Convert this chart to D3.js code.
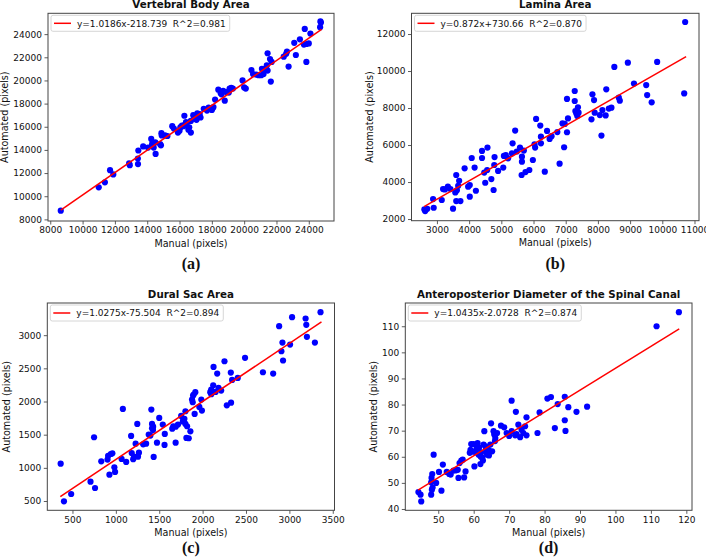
<!DOCTYPE html>
<html>
<head>
<meta charset="utf-8">
<script src="https://cdn.jsdelivr.net/npm/d3@7"></script>
<style>
  body { margin: 0; background: #fff; }
  text { fill: #111; }
</style>
</head>
<body>
<div id="chart"></div>
<script>
// Chart data.
const titles = ['Vertebral Body Area', 'Lamina Area', 'Dural Sac Area', 'Anteroposterior Diameter of the Spinal Canal'];
const letters = ['(a)', '(b)', '(c)', '(d)'];
const fitLabels = ['y=1.0186x-218.739  R^2=0.981', 'y=0.872x+730.66  R^2=0.870',
                   'y=1.0275x-75.504  R^2=0.894', 'y=1.0435x-2.0728  R^2=0.874'];
// Fit line ends as drawn in the figure: [start, end].
const fitX = [[8650, 24790], [2600, 10740], [360, 3370], [44.3, 118.0]];
const fitY = [[8800, 24420], [2670, 10780], [565, 3200], [47.2, 109.0]];

const xTicks = [
    d3.range(8000, 24001, 2000),
    d3.range(3000, 11001, 1000),
    d3.range(500, 3501, 500),
    d3.range(50, 121, 10)
];
const yTicks = [
    d3.range(8000, 24001, 2000),
    d3.range(2000, 12001, 2000),
    d3.range(500, 3001, 500),
    d3.range(40, 111, 10)
];

// [manual, automated]
const vertebralBody = [
    [8650,8750],[11000,10770],[11380,11200],[11700,12250],[11900,11880],[12880,12850],[12920,12680],[13420,13250],
    [13450,13950],[13430,12780],[13750,14300],[14050,14200],[14250,14950],[14400,14200],[14520,13650],[14500,14650],
    [14300,14500],[14850,14400],[14880,15450],[14900,15250],[14800,14500],[15100,15250],[15250,15200],[15550,16050],
    [15650,15850],[16000,15650],[16050,15950],[16150,16100],[16300,16950],[16350,16200],[16250,16050],[16400,16400],
    [16550,15750],[16700,15500],[16600,15950],[16850,17000],[16900,16700],[17000,16850],[17100,17150],[17200,16900],
    [17300,16800],[17500,17550],[17700,17400],[17800,17650],[18000,17450],[18100,17700],[18200,18350],[18400,19200],
    [18550,18900],[18700,19100],[18800,18250],[18900,19000],[19100,19300],[19050,18950],[19300,19300],[19900,20000],
    [20000,19400],[20100,19300],[20450,20900],[20550,20550],[20750,20500],[20900,20450],[21050,20450],[21200,20550],
    [21300,21000],[21450,22350],[21400,21300],[21450,20850],[21650,19900],[21600,21850],[21700,21600],[22450,22050],
    [22600,22300],[22650,22500],[22750,21200],[23100,23250],[23200,22200],[23450,23550],[23700,23100],[23750,24450],
    [23850,23150],[23850,21600],[24100,24050],[24700,24600],[24750,25000],[24720,25100],[24000,23200],[16100,16000],
    [16700,16500],[17050,16600],[18600,18800],[19200,19350],[17250,17100],[14350,14350],[15900,15500],[18050,17600],
    [21100,21000],[16450,16300]
];
const laminaArea = [
    [2610,2520],[2635,2430],[2700,2550],[2880,3080],[2900,2610],[3150,3030],[3190,3620],[3250,3600],[3340,3750],
    [3420,3620],[3500,2560],[3570,3440],[3600,4380],[3600,2970],[3660,3800],[3690,4070],[3730,2970],[3620,3550],
    [3860,4740],[3970,3750],[4020,3840],[4020,3210],[4080,5300],[4170,4780],[4210,3530],[4400,5300],[4400,5680],
    [4470,4510],[4500,3960],[4570,5860],[4560,4650],[4690,4160],[4760,3570],[4780,4920],[4790,5350],[4900,4600],
    [5060,4780],[5080,5410],[5140,5450],[5210,5280],[5330,5550],[5350,6090],[5430,6780],[5480,5650],[5580,5860],
    [5640,5370],[5640,5100],[5630,4380],[5700,5700],[5750,4540],[5870,4650],[5980,5190],[6030,6040],[6050,5860],
    [6080,7410],[6210,7050],[6230,6450],[6230,6090],[6350,4560],[6420,6760],[6500,6330],[6560,6480],[6740,6700],
    [6810,4990],[6900,7170],[6950,5880],[6970,7140],[7040,8490],[7070,7440],[7040,6690],[7280,8920],[7280,8380],
    [7300,7840],[7330,7700],[7360,7570],[7380,8040],[7400,7750],[7800,7390],[7830,8740],[7880,8430],[7900,7750],
    [8060,7620],[8110,6510],[8140,7890],[8240,7600],[8260,9010],[8340,7970],[8420,8020],[8510,10220],[8650,8560],
    [8680,8400],[8930,10450],[9120,9320],[9500,9240],[9530,8700],[9670,8310],[9840,10490],[10680,8790],[10710,12650]
];
const duralSac = [
    [364,1063],[402,495],[485,606],[708,792],[760,696],[749,1461],[832,1099],[904,1124],[911,1179],[942,1209],
    [960,1219],[926,897],[983,1008],[991,938],[1066,1134],[1081,1888],[1119,1089],[1176,1481],[1183,1224],[1210,1169],
    [1228,1365],[1247,1662],[1255,1169],[1266,1229],[1315,1355],[1349,1365],[1379,1501],[1409,1878],[1417,1662],
    [1417,1597],[1428,1571],[1436,1164],[1398,1486],[1474,1380],[1500,1752],[1541,1652],[1561,1345],[1564,1511],
    [1662,1627],[1689,1380],[1716,1652],[1753,1783],[1772,1700],[1790,1740],[1813,1451],[1802,1853],[1802,1662],
    [1821,1627],[1840,1446],[1859,1551],[1878,2029],[1897,2105],[1886,1989],[1916,2140],[1908,1813],[1962,1918],
    [1985,2029],[1992,1863],[2088,2140],[2099,2180],[2122,2245],[2126,2522],[2149,2145],[2168,2421],[2183,2205],
    [2214,2165],[2252,2607],[2279,1943],[2325,2436],[2328,1983],[2340,2326],[2405,2356],[2489,2658],[2695,2441],
    [2813,2421],[2882,3136],[2908,2758],[2920,2889],[2927,2618],[3008,2859],[3031,3272],[3187,3251],[3195,3156],
    [3202,2975],[3294,2889],[3359,3347],[1650,1590],[1690,1620],[1780,1730],[1200,1130],[1430,1620],[1890,2090],
    [2100,2110]
];
const apDiameter = [
    [44.4,46.5],[45.0,45.5],[45.2,42.9],[48.0,45.5],[48.2,47.4],[48.4,48.2],[48.0,50.2],[48.1,51.9],[48.3,53.4],
    [48.7,60.8],[49.4,50.0],[50.2,54.2],[50.9,47.0],[51.3,57.0],[52.4,54.2],[53.1,53.4],[53.5,53.2],[54.3,54.7],
    [55.0,54.8],[55.7,51.9],[56.0,57.6],[56.5,58.5],[56.9,58.9],[57.3,52.1],[57.7,54.4],[55.5,55.0],[58.9,61.5],
    [59.1,62.7],[59.3,64.9],[60.0,64.9],[60.2,56.3],[60.5,61.7],[60.8,63.1],[61.1,65.2],[61.4,60.8],[61.9,57.2],
    [62.1,61.7],[62.4,59.8],[62.6,58.6],[62.8,64.7],[63.0,69.8],[63.3,64.0],[63.6,61.7],[63.8,60.8],[64.2,62.7],
    [64.3,60.5],[64.7,64.7],[64.9,72.8],[65.2,62.1],[65.6,69.8],[65.8,68.5],[66.1,67.2],[66.6,69.1],[67.7,71.9],
    [68.6,71.3],[69.3,69.1],[70.7,81.5],[70.7,69.8],[71.7,68.2],[71.9,77.2],[72.1,68.7],[72.6,72.3],[73.1,67.5],
    [73.5,70.4],[74.0,69.1],[74.9,75.1],[74.5,71.7],[74.9,68.2],[78.0,69.1],[78.6,77.0],[80.8,82.3],[81.8,82.9],
    [83.7,80.2],[82.9,71.0],[85.7,83.0],[85.7,74.0],[85.9,69.9],[86.7,79.0],[89.0,77.2],[92.0,79.2],[111.6,110.0],
    [117.9,115.4],[61.5,63.5],[62.0,60.0],[63.5,63.0],[59.5,62.0],[66.0,66.0],[70.0,68.0]
];
const datasets = [vertebralBody, laminaArea, duralSac, apDiameter];

// Panel layout (pixels) and axis extents.
const layout = [
    {x: [48, 334],     y: [221, 13.3],   xd: [7860, 25560], yd: [7860, 25800], yLabelX: 8,     letterY: 269},
    {x: [411.5, 699],  y: [220.7, 13.3], xd: [2210, 11140], yd: [1910, 13120], yLabelX: 373,   letterY: 269},
    {x: [47.3, 334.5], y: [510.3, 303],  xd: [210, 3520],   yd: [360, 3485],   yLabelX: 10,    letterY: 553},
    {x: [405.3, 692],  y: [510.3, 303],  xd: [40.7, 121.6], yd: [39.5, 118.9], yLabelX: 376.5, letterY: 553}
];

const width = 706, height = 557;
const sans = '"DejaVu Sans", sans-serif';

let svg = d3.select('#chart')
    .append('svg')
        .attr('width', width)
        .attr('height', height)
        .style('font-family', sans);

layout.forEach((p, i) => {
    let g = svg.append('g');
    let x = d3.scaleLinear().domain(p.xd).range(p.x);
    let y = d3.scaleLinear().domain(p.yd).range(p.y);
    let cx = (p.x[0] + p.x[1]) / 2;
    let cy = (p.y[0] + p.y[1]) / 2;

    // Axes.
    let xAxis = g.append('g')
        .attr('transform', `translate(0, ${p.y[0]})`)
        .call(d3.axisBottom(x).tickValues(xTicks[i]).tickSize(3.5).tickPadding(2.5).tickFormat(d3.format('d')));
    let yAxis = g.append('g')
        .attr('transform', `translate(${p.x[0]}, 0)`)
        .call(d3.axisLeft(y).tickValues(yTicks[i]).tickSize(3.5).tickPadding(2.5).tickFormat(d3.format('d')));
    [xAxis, yAxis].forEach(a => {
        a.attr('font-family', null);
        a.select('.domain').remove();
        a.selectAll('line').attr('stroke', '#333').attr('stroke-width', 0.8);
        a.selectAll('text')
            .style('font-family', sans)
            .attr('font-size', 9)
            .attr('fill', '#111');
    });

    // Frame.
    g.append('rect')
        .attr('x', p.x[0])
        .attr('y', p.y[1])
        .attr('width', p.x[1] - p.x[0])
        .attr('height', p.y[0] - p.y[1])
        .attr('fill', 'none')
        .attr('stroke', '#444')
        .attr('stroke-width', 1);

    // Points.
    g.append('g').selectAll('circle')
        .data(datasets[i])
        .join('circle')
            .attr('cx', d => x(d[0]))
            .attr('cy', d => y(d[1]))
            .attr('r', 3.1)
            .attr('fill', '#0000ff');

    // Fit line.
    g.append('line')
        .attr('x1', x(fitX[i][0]))
        .attr('y1', y(fitY[i][0]))
        .attr('x2', x(fitX[i][1]))
        .attr('y2', y(fitY[i][1]))
        .attr('stroke', '#ff0000')
        .attr('stroke-width', 1.5);

    // Legend.
    let leg = g.append('g').attr('transform', `translate(${p.x[0] + 3}, ${p.y[1] + 2})`);
    let box = leg.append('rect')
        .attr('height', 16)
        .attr('rx', 2)
        .attr('fill', '#fff')
        .attr('fill-opacity', 0.8)
        .attr('stroke', '#ccc')
        .attr('stroke-width', 0.8);
    leg.append('line')
        .attr('x1', 3).attr('x2', 20)
        .attr('y1', 8).attr('y2', 8)
        .attr('stroke', '#ff0000')
        .attr('stroke-width', 1.5);
    let lt = leg.append('text')
        .attr('x', 26)
        .attr('y', 11.3)
        .attr('font-size', 9)
        .style('white-space', 'pre')
        .text(fitLabels[i]);
    box.attr('width', 26 + lt.node().getComputedTextLength() + 4);

    // Title and axis labels.
    g.append('text')
        .attr('x', cx)
        .attr('y', p.y[1] - 5.5)
        .attr('text-anchor', 'middle')
        .attr('font-size', 10.3)
        .attr('font-weight', 'bold')
        .text(titles[i]);
    g.append('text')
        .attr('x', cx)
        .attr('y', p.y[0] + 25.5)
        .attr('text-anchor', 'middle')
        .attr('font-size', 9.6)
        .text('Manual (pixels)');
    g.append('text')
        .attr('transform', `translate(${p.yLabelX}, ${cy}) rotate(-90)`)
        .attr('text-anchor', 'middle')
        .attr('font-size', 9.6)
        .text('Automated (pixels)');

    // Panel letter.
    g.append('text')
        .attr('x', cx)
        .attr('y', p.letterY)
        .attr('text-anchor', 'middle')
        .style('font-family', '"Liberation Serif", "Times New Roman", serif')
        .attr('font-weight', 'bold')
        .attr('font-size', 16)
        .text(letters[i]);
});
</script>
</body>
</html>
